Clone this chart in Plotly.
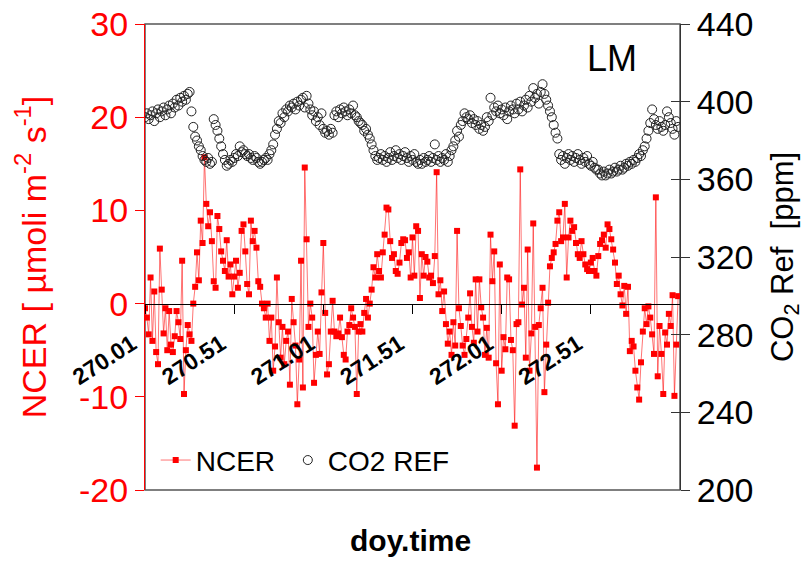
import numpy as np
import plotly.graph_objects as go

# time axis: 15-minute samples starting at doy 270.01
doy_time = np.round(270.01 + np.arange(288) / 96, 4)

ncer = [
    -0.5, -1.5, -3.3, 2.8, -4.0, 1.3, -5.2, -6.5, 5.9, 1.5,
    -3.2, -0.5, -5.0, -0.8, -4.4, -5.2, -3.5, -0.8, -2.0, -3.8,
    4.6, -9.7, -5.0, -2.3, -3.3, -4.0, 0.0, 1.8, 5.5, 2.5,
    8.9, 6.5, 15.7, 10.7, 8.3, 9.8, 6.7, 2.4, 1.7, 9.4,
    8.0, 5.6, 4.6, 3.5, 6.8, 2.9, 4.2, 1.0,
    2.9, 4.6, 1.7, 3.3, 7.8, 8.5, 5.6, 2.1, 1.0, 8.9,
    6.7, 7.8, 6.0, 2.4, 1.8, 0.0, -0.5, -1.5, 0.0, -4.0,
    -1.5, -7.2, -4.6, 2.8, -2.0, -5.8, -2.5, -6.5, -4.0, -3.0,
    -8.7, 0.5, -2.0, -4.5, -10.8, -6.0, 4.6, -9.0, 14.6, 6.9,
    -2.5, 0.0, -1.5, -8.5, -5.5, -3.0, -5.4, 1.2,
    6.5, -1.0, -7.6, -6.5, -3.0, 0.3, -3.0, -3.5, -3.2, -1.5,
    -3.6, -5.5, -6.0, -3.0, -2.3, -0.5, -1.5, -2.5, -9.7, -3.0,
    -2.2, -3.0, -1.0, 0.5, -1.5, 0.0, 1.5, 3.9, 2.8, 5.3,
    3.5, 2.8, 5.5, 7.4, 10.3, 10.1, 6.7, 4.9, 5.3, 3.5,
    3.2, 4.4, 6.5, 6.9, 6.8, 4.9, 5.5, 2.8,
    7.1, 3.0, 8.3, 7.8, 0.6, 5.3, 3.0, 5.0, 4.5, 2.8,
    3.0, 2.2, 5.1, 14.1, 1.0, 2.5, -0.8, 1.3, -2.2, -4.3,
    -3.0, -5.5, -2.0, -4.5, 7.8, -0.5, -2.4, -4.5, -5.5, -3.8,
    -1.5, 1.1, -2.5, -4.2, 2.6, -3.0, 2.6, -0.4, -1.5, -5.5,
    -2.6, -5.8, 7.4, 2.4, 5.6, -6.4, -10.8, 4.2,
    -7.2, -3.6, -4.9, 2.8, 2.6, -3.9, -5.0, -13.1, -2.2, -2.0,
    14.4, -0.1, 1.7, -5.8, 5.8, -7.2, -3.2, 8.6, -2.5, -17.6,
    -2.3, -0.5, 1.7, -9.5, -4.4, 0.1, 4.0, 4.9, 5.5, 6.4,
    8.9, 9.8, 6.7, 7.1, 10.7, 2.8, 7.1, 8.9, 7.8, 8.2,
    6.5, 5.3, 4.9, 6.7, 5.3, 4.2, 3.7, 3.5,
    4.4, 4.9, 3.5, 3.0, 5.1, 6.4, 6.8, 7.4, 6.0, 8.5,
    8.0, 6.9, 5.8, 4.4, 2.1, 3.0, 1.0, -0.2, 1.9, -1.1,
    1.8, -5.1, -4.0, -4.6, -7.2, -9.0, -10.3, -6.3, -3.0, -0.5,
    -2.2, -0.3, -1.5, -3.3, -5.4, 11.4, -7.8, -2.4, -5.4, -9.7,
    -3.1, -4.4, -1.1, -2.4, 0.9, -9.9, -4.4, 0.8,
]

co2_ref = [
    392, 394, 391, 393, 395, 390, 394, 396, 392, 395, 397, 393, 396, 398, 394, 399,
    397, 401, 398, 402, 400, 403, 401, 404, 405, 395,
    387, 382, 380, 377, 375, 372, 370, 369, 371, 368, 369,
    391, 388, 385, 381, 377, 373, 370, 367,
    368, 370, 369, 371, 373, 372, 377, 374, 375, 373, 372, 373, 371, 370, 372, 371,
    369, 368, 369, 370, 371, 370, 373, 375, 378,
    383, 386, 390, 389, 394, 392, 396, 395, 398, 397, 399, 396, 400, 398, 401, 402,
    397, 403, 399,
    396, 393, 395, 390, 392, 388, 394,
    386, 384, 385, 383, 386, 384,
    393, 395, 392, 396, 394, 397, 395, 393, 396, 394, 398, 393,
    392, 390, 389, 388, 385, 386, 383, 381, 378, 375, 372, 370,
    371, 373, 370, 372, 369, 371, 374, 370, 372, 375, 371, 373, 370, 372, 374, 371,
    369, 372, 370,
    373, 369, 368, 370, 368, 371, 369, 370, 372, 369, 371, 378, 370, 372, 369, 371,
    370, 373, 369, 372, 375, 377,
    380, 385, 382, 388, 390, 394, 392, 391, 393, 389, 391, 388, 390, 386, 388, 385,
    387, 392, 390, 402, 393, 397, 395, 398, 394, 396, 393, 397, 391, 395, 398, 396,
    394, 399, 396, 400, 395, 398, 401, 397, 403, 400, 407, 402, 404, 399, 405, 409,
    404, 401, 398,
    395, 392, 388, 384, 381,
    373, 370, 372, 368, 371, 373, 370, 372, 369, 371, 373, 370, 368, 371, 369, 372,
    368, 367, 369, 366, 365,
    365, 363, 362, 364, 362, 363, 365, 363, 364, 366, 364, 365, 367, 365, 366, 368,
    367, 369, 368, 370, 369, 371, 373, 372, 375, 377, 381, 385,
    389, 396, 391, 388, 386, 390, 387, 385, 388, 395, 392, 389, 386, 383, 390, 387,
]

x_tick_vals = [270.01, 270.51, 271.01, 271.51, 272.01, 272.51]
x_tick_text = ["270.01", "270.51", "271.01", "271.51", "272.01", "272.51"]
ncer_ticks = [-20, -10, 0, 10, 20, 30]
ncer_tick_text = ["-20", "-10", "0", "10", "20", "30"]
co2_ticks = [200, 240, 280, 320, 360, 400, 440]

FONT = "Liberation Sans, Arial, sans-serif"

fig = go.Figure()
fig.add_trace(go.Scatter(
    x=doy_time, y=ncer, mode="lines+markers", name="NCER\u00a0",
    line=dict(color="rgba(255,0,0,0.55)", width=1),
    marker=dict(symbol="square", size=6, color="#ff0000"),
))
fig.add_trace(go.Scatter(
    x=doy_time, y=co2_ref, mode="markers", name="CO2 REF", yaxis="y2",
    marker=dict(symbol="circle-open", size=9, color="#222222", line=dict(width=1)),
))
fig.add_trace(go.Scatter(
    x=[doy_time[0]], y=[None], mode="markers", yaxis="y3",
    showlegend=False, hoverinfo="skip",
))

fig.update_layout(
    width=806, height=561,
    margin=dict(l=145, r=126, t=24, b=71),
    paper_bgcolor="white", plot_bgcolor="white",
    font=dict(family=FONT, color="black"),
    legend=dict(orientation="h", x=0.02, y=0.01, xanchor="left", yanchor="bottom",
                font=dict(size=28), bgcolor="rgba(0,0,0,0)"),
    xaxis=dict(range=[270.01, 273.01], anchor="free", position=0.4, automargin=False,
               showline=True, linecolor="black", linewidth=1,
               ticks="outside", ticklen=9, tickcolor="black",
               tickvals=x_tick_vals, ticktext=x_tick_text, tickangle=-33,
               ticklabelstandoff=8, ticklabelshift=-13,
               tickfont=dict(size=23, color="black", weight="bold"),
               showgrid=False, zeroline=False),
    yaxis=dict(range=[-20, 30], tickvals=ncer_ticks, ticktext=ncer_tick_text,
               ticks="outside", ticklen=9, automargin=False,
               tickcolor="red", showline=True, linecolor="red", linewidth=1,
               tickfont=dict(size=34, color="red"),
               title=dict(text="NCER [ µmoli m<sup>-2</sup> s<sup>-1</sup>]",
                          font=dict(size=34, color="red"), standoff=22),
               showgrid=False, zeroline=False),
    yaxis2=dict(range=[200, 440], overlaying="y", side="right", tickvals=co2_ticks,
                ticks="outside", ticklen=9, tickcolor="#333", showline=True,
                linecolor="#333", linewidth=1, tickfont=dict(size=34), automargin=False,
                title=dict(text="CO<sub>2</sub> Ref  [ppm]", font=dict(size=31), standoff=18),
                showgrid=False, zeroline=False),
    yaxis3=dict(range=[200, 440], overlaying="y", side="right", tickvals=co2_ticks,
                ticks="inside", ticklen=9, tickcolor="#333", showticklabels=False,
                automargin=False, showline=False, showgrid=False, zeroline=False),
    shapes=[dict(type="rect", xref="paper", yref="paper", x0=0, y0=0, x1=1, y1=1,
                 line=dict(color="#555555", width=1.5), layer="below")],
    annotations=[
        dict(text="LM", xref="paper", yref="paper", x=0.873, y=0.927,
             xanchor="center", yanchor="middle",
             showarrow=False, font=dict(size=36, color="black")),
        dict(text="<b>doy.time</b>", xref="paper", yref="paper", x=0.497, y=-0.109,
             xanchor="center", yanchor="middle",
             showarrow=False, font=dict(size=30, color="black")),
    ],
)

fig.write_html("out.html")
